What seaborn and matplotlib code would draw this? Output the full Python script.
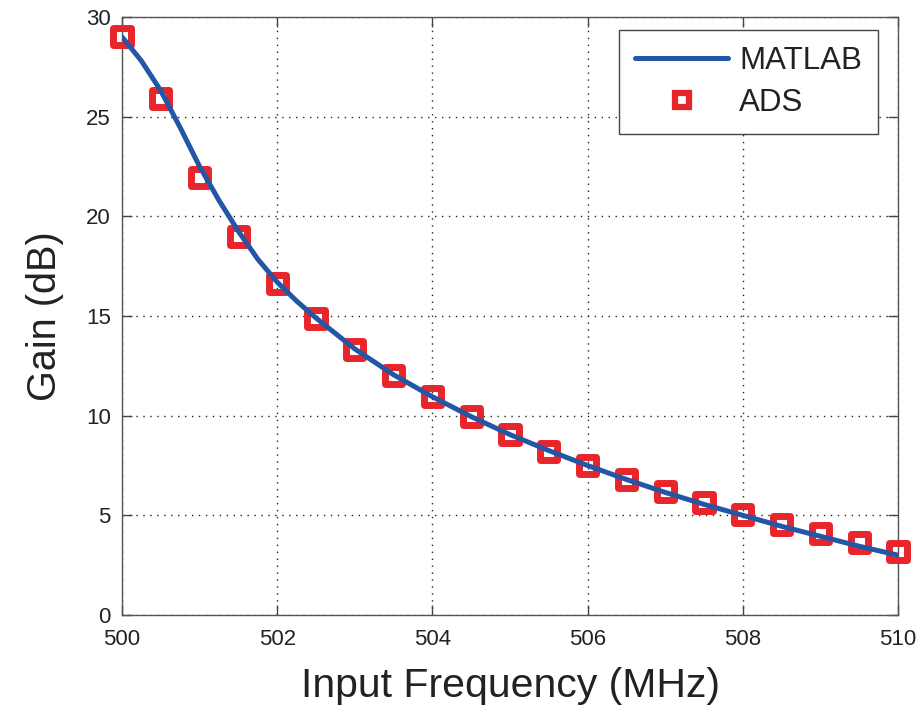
import numpy as np
import pandas as pd
import matplotlib
matplotlib.use("Agg")
import matplotlib.pyplot as plt
import seaborn as sns
from matplotlib.lines import Line2D

# ---- data ----
freq_ads = [500.0, 500.5, 501.0, 501.5, 502.0, 502.5, 503.0, 503.5, 504.0, 504.5,
            505.0, 505.5, 506.0, 506.5, 507.0, 507.5, 508.0, 508.5, 509.0, 509.5, 510.0]
gain_ads = [29.0, 25.9, 21.95, 19.0, 16.65, 14.85, 13.3, 12.0, 10.95, 9.95,
            9.05, 8.2, 7.5, 6.8, 6.2, 5.65, 5.05, 4.55, 4.1, 3.65, 3.2]

freq_matlab = [500.0, 500.25, 500.5, 500.75, 501.0, 501.25, 501.5, 501.75, 502.0, 502.25,
               502.5, 503.0, 503.5, 504.0, 504.5, 505.0, 505.5, 506.0, 506.5, 507.0,
               507.5, 508.0, 508.5, 509.0, 509.5, 510.0]
gain_matlab = [29.0, 27.8, 26.3, 24.45, 22.5, 20.8, 19.25, 17.85, 16.7, 15.75,
               14.9, 13.35, 12.05, 10.95, 9.95, 9.05, 8.25, 7.5, 6.8, 6.15,
               5.55, 5.0, 4.45, 3.95, 3.45, 3.0]

x_ticks = [500, 502, 504, 506, 508, 510]
y_ticks = [0, 5, 10, 15, 20, 25, 30]

line_color = "#2456a6"
marker_color = "#e8252b"

sns.set_style("white")
plt.rcParams["font.family"] = ["Liberation Sans", "DejaVu Sans"]

fig = plt.figure(figsize=(9.22, 7.07), dpi=100)
ax = fig.add_axes([122 / 922, 1 - 615 / 707, 776 / 922, 598 / 707])

df_ads = pd.DataFrame({"f": freq_ads, "g": gain_ads})
df_mat = pd.DataFrame({"f": freq_matlab, "g": gain_matlab})

sns.scatterplot(data=df_ads, x="f", y="g", ax=ax, marker="s", s=150,
                facecolors="none", edgecolor=marker_color, linewidth=5,
                zorder=3, legend=False, clip_on=False)
sns.lineplot(data=df_mat, x="f", y="g", ax=ax, color=line_color, lw=3.6,
             zorder=4, legend=False)

ax.set_xlim(500, 510)
ax.set_ylim(0, 30)
ax.set_xticks(x_ticks)
ax.set_yticks(y_ticks)
ax.set_xticklabels([str(t) for t in x_ticks])
ax.set_yticklabels([str(t) for t in y_ticks])

for lab in ax.get_xticklabels() + ax.get_yticklabels():
    lab.set_fontsize(16)
    lab.set_color("#222222")

ax.tick_params(axis="x", pad=10)
ax.tick_params(axis="y", pad=8)
ax.tick_params(direction="in", length=7, width=1, color="#444444",
               top=True, right=True, bottom=True, left=True)
ax.grid(True, linestyle=(0, (1, 4)), color="#222222", linewidth=1.0)
for sp in ax.spines.values():
    sp.set_visible(True)
    sp.set_color("#555555")
    sp.set_linewidth(1.0)

ax.set_xlabel("Input Frequency (MHz)", fontsize=29.5, color="#222222", labelpad=12)
ax.set_ylabel("Gain (dB)", fontsize=28.5, color="#222222", labelpad=16)

handles = [
    Line2D([], [], color=line_color, lw=3.6),
    Line2D([], [], color=marker_color, marker="s", linestyle="none",
           markersize=10, markerfacecolor="none", markeredgewidth=4.5),
]
leg = ax.legend(handles, ["MATLAB", "ADS"], loc="upper right",
                bbox_to_anchor=(0.974, 0.978), borderaxespad=0,
                fontsize=22.5, handlelength=3.0, handletextpad=0.35,
                labelspacing=0.4, borderpad=0.5, fancybox=False,
                framealpha=1, edgecolor="#444444")
leg.get_frame().set_linewidth(1.0)
for t in leg.get_texts():
    t.set_color("#222222")

fig.savefig("out.png", dpi=100, facecolor="white")
